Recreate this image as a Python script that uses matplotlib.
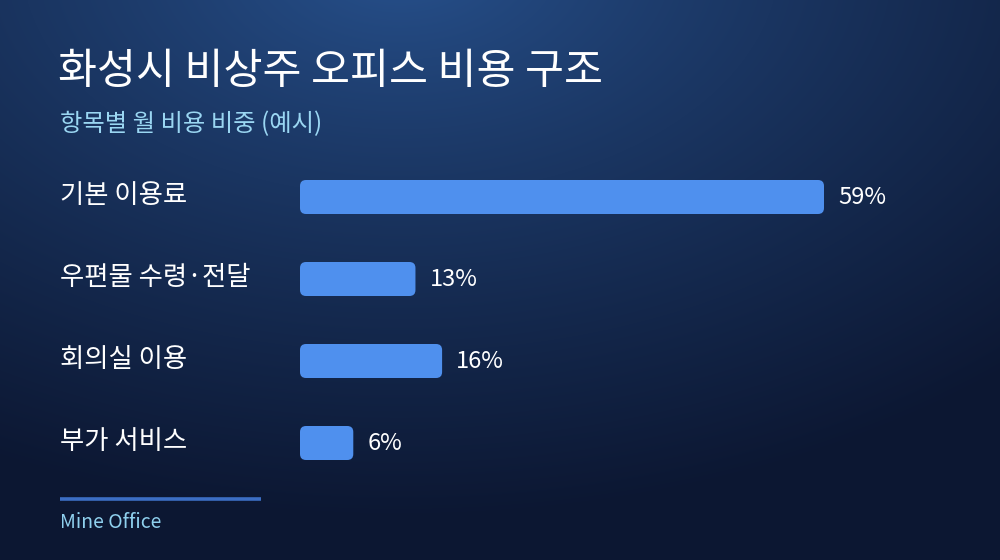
import numpy as np
import matplotlib
matplotlib.use("Agg")
import matplotlib.pyplot as plt
from matplotlib.patches import FancyBboxPatch
import matplotlib.transforms as mtransforms

plt.rcParams['font.family'] = ['Noto Sans CJK KR', 'DejaVu Sans']

title = "화성시 비상주 오피스 비용 구조"
subtitle = "항목별 월 비용 비중 (예시)"
categories = ["기본 이용료", "우편물 수령·전달", "회의실 이용", "부가 서비스"]
values = [59, 13, 16, 6]
value_labels = ["59%", "13%", "16%", "6%"]
footer = "Mine Office"

W, H = 1000, 560
fig = plt.figure(figsize=(W / 100, H / 100), dpi=100)

# background gradient
bg = fig.add_axes([0, 0, 1, 1])
bg.set_axis_off()
yy, xx = np.mgrid[0:H, 0:W]
d = np.sqrt(((xx - 400) / 900.0) ** 2 + ((yy + 40) / 560.0) ** 2)
t = np.clip(d, 0, 1)
c0 = np.array([0x28, 0x53, 0x90]) / 255.0
c1 = np.array([0x0c, 0x17, 0x32]) / 255.0
img = (1 - t[..., None] ** 0.8) * c0 + (t[..., None] ** 0.8) * c1
bg.imshow(img, extent=[0, W, H, 0], aspect='auto')
bg.set_xlim(0, W)
bg.set_ylim(H, 0)

# text
bg.text(58, 72, title, color='white', fontsize=30.5, va='center', ha='left')
bg.text(60, 124, subtitle, color='#9ad6f2', fontsize=17.5, va='center', ha='left')
bg.plot([60, 261], [499, 499], color='#3c6ec4', lw=2.6, solid_capstyle='butt')
bg.text(60, 523, footer, color='#8fd0ee', fontsize=14, va='center', ha='left')

# bars axes
left_px, right_px = 300, 824
top_px, bot_px = 156, 484
ax = fig.add_axes([left_px / W, 1 - bot_px / H, (right_px - left_px) / W, (bot_px - top_px) / H])
ax.set_axis_off()
ax.set_xlim(0, 59)
ax.set_ylim(len(categories) - 0.5, -0.5)

px_x = (right_px - left_px) / 59.0
px_y = (bot_px - top_px) / len(categories)
r = 6 / px_x
asp = px_x / px_y
bh = 34 / px_y
off = mtransforms.offset_copy(ax.transData, fig=fig, x=14, y=0, units='dots')
blend = mtransforms.blended_transform_factory(bg.transData, ax.transData)
for i, v in enumerate(values):
    p = FancyBboxPatch((0, i - bh / 2), v, bh,
                       boxstyle=f"round,pad=0,rounding_size={r}",
                       mutation_aspect=asp, fc='#4f90ee', ec='none')
    ax.add_patch(p)
    ax.text(v, i, value_labels[i], transform=off, color='white',
            fontsize=17, va='center', ha='left')
    ax.text(60, i - 0.02, categories[i], transform=blend, color='white',
            fontsize=19, va='center', ha='left')

fig.savefig("out.png", dpi=100)
